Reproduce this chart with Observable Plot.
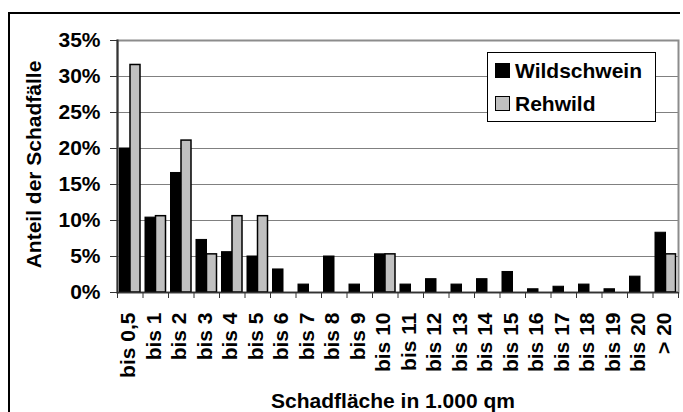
<!DOCTYPE html>
<html><head><meta charset="utf-8">
<script src="https://cdn.jsdelivr.net/npm/d3@7"></script>
<script src="https://cdn.jsdelivr.net/npm/@observablehq/plot@0.6"></script>
<style>
html,body{margin:0;padding:0;background:#fff;font-family:"Liberation Sans",Arial,sans-serif;overflow:hidden;width:683px;height:412px;}
#wrap{position:relative;width:683px;height:412px;overflow:hidden;background:#fff;}
#lineTop{position:absolute;left:8px;top:12px;width:672px;height:1.5px;background:#000;}
#lineLeft{position:absolute;left:8px;top:12px;width:1.5px;height:400px;background:#000;}
#chart{position:absolute;left:0;top:0;width:683px;height:412px;}
#chart svg{display:block;}
#legend{position:absolute;left:487px;top:52px;width:169px;height:70px;border:1px solid #000;background:#fff;box-sizing:border-box;}
.item{position:absolute;left:0;height:24px;line-height:24px;font-weight:bold;font-size:21px;color:#000;white-space:nowrap;}
.sw{position:absolute;left:7px;top:4px;width:15px;height:15px;border:1.5px solid #000;box-sizing:border-box;}
.lt{position:absolute;left:27px;top:0;}
</style></head><body>
<div id="wrap"><div id="lineTop"></div><div id="lineLeft"></div><div id="chart"></div><div id="legend"></div></div>
<script>
const categories = ["bis 0,5","bis 1","bis 2","bis 3","bis 4","bis 5","bis 6","bis 7","bis 8","bis 9","bis 10","bis 11","bis 12","bis 13","bis 14","bis 15","bis 16","bis 17","bis 18","bis 19","bis 20","> 20"];
const wildschwein = [20.0,10.4,16.6,7.3,5.6,5.0,3.2,1.1,5.0,1.1,5.3,1.1,1.85,1.1,1.85,2.85,0.45,0.8,1.1,0.45,2.2,8.3];
const rehwild = [31.6,10.6,21.1,5.3,10.6,10.6,0,0,0,0,5.3,0,0,0,0,0,0,0,0,0,0,5.3];
const yTicks = [0,5,10,15,20,25,30,35];
const seriesNames = ["Wildschwein","Rehwild"];
const seriesColors = ["#000000","#c0c0c0"];

const data = categories.map((c,i)=>({cat:c, w:wildschwein[i], r:rehwild[i]}));
const W=683, H=412, mL=117, mR=5, mT=40, mB=120;
const bw = (W-mL-mR)/categories.length;
const font = "'Liberation Sans', Arial, sans-serif";

const chart = Plot.plot({
  width:W, height:H, marginLeft:mL, marginRight:mR, marginTop:mT, marginBottom:mB,
  style:{fontFamily:font, background:"transparent", color:"#000", overflow:"visible"},
  x:{domain:categories, padding:0, round:false, axis:null},
  y:{domain:[0,35], axis:null},
  marks:[
    Plot.ruleY(yTicks, {stroke:"#808080", strokeWidth:1}),
    Plot.frame({stroke:"#8c8c8c", strokeWidth:2}),
    Plot.barY(data.filter(d=>d.w>0), {x:"cat", y:"w", fill:seriesColors[0], stroke:"#000", strokeWidth:1, insetLeft:2.5, insetRight:12.5}),
    Plot.barY(data.filter(d=>d.r>0), {x:"cat", y:"r", fill:seriesColors[1], stroke:"#000", strokeWidth:1.5, insetLeft:13, insetRight:2.5}),
    Plot.ruleY([0], {stroke:"#333", strokeWidth:1.5}),
    Plot.frame({anchor:"left", stroke:"#333", strokeWidth:2}),
    Plot.axisY({ticks:yTicks, tickFormat:d=>d+"%", tickSize:7, tickPadding:10, fontSize:21, fontWeight:"bold", stroke:"#333", label:null}),
    Plot.axisX({tickSize:6, tickFormat:()=>"", dx:-bw/2, label:null, stroke:"#333"}),
    Plot.axisX({ticks:[categories[categories.length-1]], tickSize:6, tickFormat:()=>"", dx:bw/2, label:null, stroke:"#333"}),
    Plot.axisX({tickSize:0, tickPadding:20, tickRotate:-90, fontSize:21, fontWeight:"bold", label:null, dx:-1.5}),
    Plot.text(["Anteil der Schadfälle"], {frameAnchor:"left", rotate:-90, textAnchor:"middle", dx:-83.5, dy:-2, fontSize:21, fontWeight:"bold"}),
    Plot.text(["Schadfläche in 1.000 qm"], {frameAnchor:"bottom", textAnchor:"middle", dy:109, dx:-5, lineAnchor:"middle", fontSize:21, fontWeight:"bold"})
  ]
});
document.getElementById("chart").appendChild(chart);

const legend = document.getElementById("legend");
seriesNames.forEach((name,i)=>{
  const item = document.createElement("div");
  item.className = "item";
  item.style.top = (6 + i*33) + "px";
  const sw = document.createElement("span");
  sw.className = "sw";
  sw.style.background = seriesColors[i];
  const lt = document.createElement("span");
  lt.className = "lt";
  lt.textContent = name;
  item.appendChild(sw); item.appendChild(lt);
  legend.appendChild(item);
});
</script>
</body></html>
